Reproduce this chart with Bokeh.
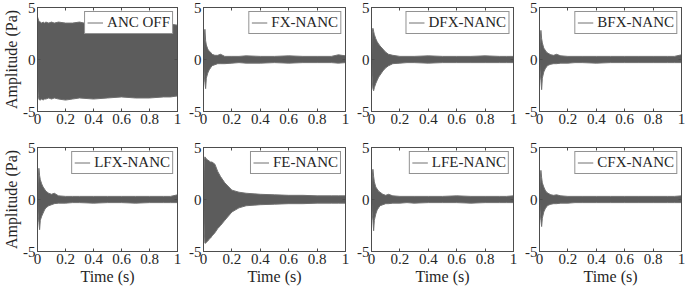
from bokeh.plotting import figure
from bokeh.models import FixedTicker, LinearAxis, Legend, LegendItem, Range1d
from bokeh.layouts import column, row
from bokeh.embed import file_html
from bokeh.resources import INLINE

# time instants (s) at which the signal envelope was read
t = [0, 0.005, 0.01, 0.015, 0.02, 0.03, 0.04, 0.05, 0.06, 0.08, 0.1, 0.12,
     0.15, 0.2, 0.25, 0.3, 0.4, 0.5, 0.6, 0.7, 0.8, 0.9, 0.95, 1.0]

labels = ["ANC OFF", "FX-NANC", "DFX-NANC", "BFX-NANC",
          "LFX-NANC", "FE-NANC", "LFE-NANC", "CFX-NANC"]

# upper / lower envelope of each pressure signal (Pa)
up_anc_off = [4.1, 3.9, 3.7, 3.6, 3.6, 3.5, 3.6, 3.5, 3.6, 3.5, 3.6, 3.5,
              3.6, 3.5, 3.5, 3.6, 3.3, 3.3, 3.4, 3.3, 3.4, 3.3, 3.4, 3.3]
lo_anc_off = [-2.2, -3.4, -3.8, -3.9, -3.9, -3.8, -3.9, -3.8, -3.8, -3.7, -3.8, -3.7,
              -3.8, -3.9, -3.8, -3.7, -3.8, -3.7, -3.6, -3.7, -3.7, -3.6, -3.6, -3.5]

up_fx = [0.3, 2.2, 2.9, 1.8, 1.4, 1.0, 0.8, 0.7, 0.5, 0.4, 0.4, 0.5,
         0.3, 0.3, 0.3, 0.35, 0.3, 0.3, 0.35, 0.3, 0.3, 0.3, 0.45, 0.35]
lo_fx = [-0.3, -1.5, -2.2, -2.8, -1.8, -1.3, -1.0, -0.8, -0.6, -0.5, -0.4, -0.4,
         -0.4, -0.35, -0.3, -0.35, -0.35, -0.3, -0.35, -0.3, -0.3, -0.3, -0.35, -0.3]

up_dfx = [0.3, 2.6, 3.0, 2.7, 2.4, 2.0, 1.7, 1.5, 1.3, 1.0, 0.7, 0.5,
          0.4, 0.3, 0.3, 0.3, 0.35, 0.3, 0.3, 0.3, 0.35, 0.3, 0.3, 0.3]
lo_dfx = [-0.3, -2.0, -2.8, -3.0, -2.7, -2.3, -2.0, -1.7, -1.5, -1.1, -0.8, -0.6,
          -0.4, -0.35, -0.3, -0.3, -0.35, -0.3, -0.3, -0.3, -0.3, -0.3, -0.3, -0.3]

up_bfx = [0.3, 2.0, 2.8, 2.0, 1.6, 1.1, 0.9, 0.7, 0.6, 0.45, 0.4, 0.5,
          0.35, 0.3, 0.3, 0.3, 0.3, 0.3, 0.3, 0.3, 0.3, 0.3, 0.3, 0.45]
lo_bfx = [-0.3, -1.3, -2.0, -2.9, -1.8, -1.2, -0.9, -0.7, -0.55, -0.45, -0.4, -0.4,
          -0.35, -0.35, -0.3, -0.3, -0.35, -0.3, -0.3, -0.3, -0.3, -0.3, -0.3, -0.3]

up_lfx = [0.3, 2.0, 3.0, 2.3, 1.9, 1.5, 1.2, 1.0, 0.8, 0.6, 0.5, 0.6,
          0.35, 0.3, 0.3, 0.3, 0.3, 0.3, 0.3, 0.3, 0.3, 0.3, 0.3, 0.45]
lo_lfx = [-0.3, -1.5, -2.2, -2.9, -2.0, -1.6, -1.3, -1.0, -0.8, -0.6, -0.5, -0.4,
          -0.35, -0.35, -0.3, -0.3, -0.35, -0.3, -0.3, -0.35, -0.3, -0.3, -0.3, -0.3]

up_fe = [0.5, 3.5, 4.1, 4.0, 3.9, 3.8, 3.7, 3.6, 3.6, 3.4, 2.7, 2.2,
         1.6, 0.9, 0.7, 0.6, 0.5, 0.45, 0.4, 0.4, 0.35, 0.35, 0.35, 0.35]
lo_fe = [-0.5, -3.0, -4.2, -4.2, -4.1, -4.0, -3.8, -3.7, -3.5, -3.2, -2.8, -2.5,
         -2.0, -1.2, -0.8, -0.6, -0.5, -0.45, -0.4, -0.4, -0.35, -0.35, -0.35, -0.35]

up_lfe = [0.3, 2.2, 2.9, 2.2, 1.7, 1.2, 1.0, 0.8, 0.7, 0.5, 0.4, 0.5,
          0.35, 0.3, 0.3, 0.3, 0.3, 0.3, 0.35, 0.3, 0.3, 0.3, 0.3, 0.35]
lo_lfe = [-0.3, -1.4, -2.0, -3.0, -2.0, -1.4, -1.0, -0.8, -0.6, -0.5, -0.4, -0.4,
          -0.35, -0.35, -0.3, -0.35, -0.3, -0.3, -0.3, -0.35, -0.3, -0.3, -0.3, -0.3]

up_cfx = [0.3, 2.0, 2.8, 2.1, 1.6, 1.2, 0.9, 0.7, 0.6, 0.45, 0.4, 0.45,
          0.35, 0.3, 0.3, 0.3, 0.3, 0.3, 0.3, 0.3, 0.3, 0.3, 0.3, 0.35]
lo_cfx = [-0.3, -1.3, -2.0, -2.6, -1.8, -1.2, -0.9, -0.7, -0.55, -0.45, -0.4, -0.4,
          -0.35, -0.35, -0.3, -0.3, -0.3, -0.3, -0.3, -0.3, -0.3, -0.3, -0.3, -0.3]

uppers = [up_anc_off, up_fx, up_dfx, up_bfx, up_lfx, up_fe, up_lfe, up_cfx]
lowers = [lo_anc_off, lo_fx, lo_dfx, lo_bfx, lo_lfx, lo_fe, lo_lfe, lo_cfx]

x_ticks = [0, 0.2, 0.4, 0.6, 0.8, 1]
x_tick_labels = ["0", "0.2", "0.4", "0.6", "0.8", "1"]
y_ticks = [-5, 0, 5]
y_tick_labels = ["-5", "0", "5"]

FONT = "Liberation Serif"
TXT = "#262626"
AX = "#4d4d4d"
SIG_FILL = "#5c5c5c"
SIG_LINE = "#707070"
FS = "15px"
LFS = "16px"


def style_axis(ax, ticks, tick_labels, show_labels=True):
    ax.ticker = FixedTicker(ticks=ticks)
    ax.major_tick_in = 3
    ax.major_tick_out = 0
    ax.minor_tick_line_color = None
    ax.major_tick_line_color = AX
    ax.axis_line_color = AX
    ax.major_label_text_font = FONT
    ax.major_label_text_color = TXT
    if show_labels:
        ax.major_label_overrides = dict(zip(ticks, tick_labels))
        ax.major_label_text_font_size = FS
        ax.major_label_standoff = 2
    else:
        ax.major_label_overrides = {tk: "" for tk in ticks}
        ax.major_label_text_font_size = "1px"
        ax.major_label_standoff = 0


FRAME_W = 142
FRAME_H = 104


def make_panel(i):
    r, c = divmod(i, 4)
    left = 35 if c == 0 else 22
    right = 4
    top = 7
    bottom = 29 if r == 0 else 42
    p = figure(width=left + FRAME_W + right, height=top + FRAME_H + bottom,
               x_range=Range1d(0, 1), y_range=Range1d(-5, 5),
               output_backend="svg", toolbar_location=None,
               min_border_left=left, min_border_right=right,
               min_border_top=top, min_border_bottom=bottom)
    p.xgrid.visible = False
    p.ygrid.visible = False
    p.outline_line_color = AX
    p.background_fill_color = "white"
    p.border_fill_color = "white"

    bx = p.xaxis[0]
    ly = p.yaxis[0]
    style_axis(bx, x_ticks, x_tick_labels)
    style_axis(ly, y_ticks, y_tick_labels)

    top_ax = LinearAxis()
    style_axis(top_ax, x_ticks, x_tick_labels, False)
    p.add_layout(top_ax, "above")
    right_ax = LinearAxis()
    style_axis(right_ax, y_ticks, y_tick_labels, False)
    p.add_layout(right_ax, "right")

    if r == 1:
        bx.axis_label = "Time (s)"
        bx.axis_label_text_font = FONT
        bx.axis_label_text_font_size = LFS
        bx.axis_label_text_font_style = "normal"
        bx.axis_label_text_color = TXT
        bx.axis_label_standoff = 1
    if c == 0:
        ly.axis_label = "Amplitude (Pa)"
        ly.axis_label_text_font = FONT
        ly.axis_label_text_font_size = LFS
        ly.axis_label_text_font_style = "normal"
        ly.axis_label_text_color = TXT
        ly.axis_label_standoff = 0

    up = uppers[i]
    lo = lowers[i]
    p.varea(x=t, y1=lo, y2=up, fill_color=SIG_FILL, fill_alpha=1.0)
    ln = p.line(t, up, line_color=SIG_LINE, line_width=1)
    p.line(t, lo, line_color=SIG_LINE, line_width=1)

    legend = Legend(items=[LegendItem(label=labels[i], renderers=[ln])],
                    location="top_right", margin=4, padding=2, spacing=0,
                    glyph_width=16, glyph_height=15, label_standoff=4,
                    label_text_font=FONT, label_text_font_size=FS,
                    label_text_color=TXT, label_height=15,
                    border_line_color=TXT, border_line_width=1,
                    background_fill_color="white", background_fill_alpha=1.0)
    p.add_layout(legend)
    return p


panels = [make_panel(i) for i in range(8)]
layout = column(row(*panels[:4]), row(*panels[4:]))

open("out.html", "w").write(file_html(layout, INLINE))
